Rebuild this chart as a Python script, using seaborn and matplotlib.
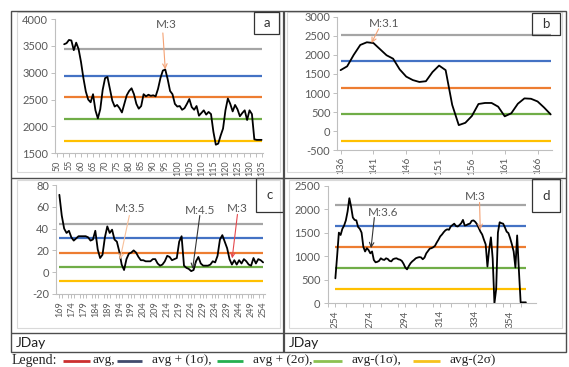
import numpy as np
import pandas as pd
import matplotlib
matplotlib.use("Agg")
import matplotlib.pyplot as plt
from matplotlib.lines import Line2D
from matplotlib.patches import Rectangle
from matplotlib.ticker import MultipleLocator
import seaborn as sns

# ---------------- data ----------------
# daily series (first Julian day + one value per day)
a_start = 53
a_vals = [3530,
          3550, 3610, 3600, 3420, 3560, 3440, 3200, 2900, 2650, 2500,
          2450, 2600, 2300, 2150, 2320, 2680, 2900, 2920, 2700, 2480,
          2370, 2400, 2340, 2260, 2420, 2580, 2660, 2710, 2600, 2420,
          2330, 2380, 2600, 2560, 2590, 2570, 2580, 2560, 2700, 2900,
          3040, 3060, 2880, 2660, 2600, 2420, 2370, 2380, 2310, 2340,
          2420, 2510, 2360, 2310, 2380, 2200, 2250, 2300, 2220, 2270,
          2230, 1900, 1660, 1680, 1830, 1960, 2300, 2520, 2420, 2280,
          2400, 2320, 2190, 2250, 2300, 2120, 2300, 2230, 1760, 1750,
          1750, 1750]

b_start = 136
b_vals = [1600, 1700, 2000, 2260, 2330, 2310, 2150, 1990, 1900, 1620,
          1430, 1340, 1290, 1310, 1550, 1720, 1600, 690, 160, 220,
          400, 713, 740, 740, 643, 390, 470, 720, 860, 850,
          780, 620, 440]

c_start = 169
c_vals = [71, 52, 40, 36, 38, 32, 29, 31, 33, 33,
          33, 33, 32, 29, 30, 38, 21, 13, 16, 32,
          42, 36, 39, 30, 28, 19, 7, 2, 12, 17,
          18, 20, 18, 14, 11, 11, 10, 10, 10, 12,
          12, 8, 6, 7, 10, 15, 14, 11, 12, 13,
          28, 33, 6, 4, 3, 1, 2, 10, 14, 8,
          6, 6, 6, 7, 10, 9, 15, 30, 34, 28,
          22, 12, 7, 11, 7, 11, 8, 12, 10, 7,
          6, 13, 8, 12, 11, 9]

d_start = 254
d_vals = [530, 1000, 1500, 1450, 1580, 1650, 1760, 1950, 2230, 2050,
          1820, 1770, 1760, 1620, 1580, 1500, 1200, 1100, 1170, 1130,
          1060, 1100, 920, 870, 880, 900, 955, 930, 920, 955,
          940, 900, 890, 935, 950, 955, 935, 925, 900, 840,
          760, 720, 790, 850, 890, 920, 955, 970, 980, 975,
          935, 970, 1060, 1110, 1160, 1170, 1190, 1220, 1290, 1350,
          1420, 1460, 1510, 1550, 1570, 1560, 1630, 1660, 1690, 1640,
          1630, 1660, 1700, 1770, 1650, 1660, 1680, 1690, 1750, 1760,
          1730, 1680, 1600, 1520, 1460, 1350, 1250, 780, 1150, 1400,
          950, 0, 300, 1500, 1720, 1700, 1690, 1610, 1520, 1490,
          1380, 1250, 1100, 760, 1440, 700, 20, 20, 20, 20]

# reference levels: avg+2s, avg+1s, avg, avg-1s, avg-2s
a_stats = [3440, 2940, 2540, 2130, 1730]
b_stats = [2530, 1835, 1140, 445, -250]
c_stats = [44, 31, 17.5, 4.5, -8.5]
d_stats = [2090, 1640, 1190, 740, 300]

# marker labels: (text, text x, text y, tail x, tail y, tip x, tip y, colour)
a_notes = [("M:3", 95.5, 3900, 94.0, 3740, 95.0, 3060, "#f4a274")]
b_notes = [("M:3.1", 142.6, 2810, 141.8, 2680, 140.7, 2310, "#f4a274")]
c_notes = [("M:3.5", 198.5, 58.6, 198.2, 52.0, 194.3, 11.8, "#f8c09a"),
           ("M:4.5", 227.6, 57.0, 227.6, 52.0, 224.6, 3.0, "#333333"),
           ("M:3", 243.2, 58.6, 243.3, 53.0, 241.1, 12.7, "#e5484d")]
d_notes = [("M:3.6", 281.6, 1934, 276.3, 1820, 274.4, 1170, "#333333"),
           ("M:3", 334.0, 2266, 336.5, 2140, 336.9, 1560, "#f4a274")]

legend_labels = ["avg,", "avg + (1\u03c3),", "avg + (2\u03c3),", "avg-(1\u03c3),", "avg-(2\u03c3)"]
legend_colors = ["#cc2f2f", "#414b6d", "#25b050", "#8cc152", "#f6c21d"]

# ---------------- style ----------------
sns.set_theme(style="white")
plt.rcParams["font.family"] = ["Lato", "DejaVu Sans"]
plt.rcParams["axes.unicode_minus"] = False

level_colors = ["#a5a5a5", "#4472c4", "#ed7d31", "#70ad47", "#ffc000"]
AX_GREY = "#bfbfbf"
TXT_GREY = "#595959"
YTICK_FS = 8
NOTE_FS = 8.5

W, H = 569, 367
fig = plt.figure(figsize=(W / 100, H / 100), dpi=100)
fig.patch.set_facecolor("white")


def fx(px):
    return px / W


def fy(py):
    return 1 - py / H


def px_axes(left, top, right, bottom):
    return fig.add_axes([fx(left), fy(bottom), (right - left) / W, (bottom - top) / H])


def fig_line(x0, y0, x1, y1, color="#5a5a5a", lw=1.0):
    fig.add_artist(Line2D([fx(x0), fx(x1)], [fy(y0), fy(y1)],
                          transform=fig.transFigure, color=color, lw=lw,
                          solid_capstyle="butt"))


def fig_rect(x0, y0, x1, y1, color, lw):
    fig.add_artist(Rectangle((fx(x0), fy(y1)), fx(x1) - fx(x0), fy(y0) - fy(y1),
                             transform=fig.transFigure, fill=False,
                             edgecolor=color, lw=lw))


# faint chart-area frames
fig_rect(17, 12, 280, 172, "#d9d9d9", 0.8)
fig_rect(287, 12, 562, 172, "#d9d9d9", 0.8)
fig_rect(17, 180, 280, 328, "#d9d9d9", 0.8)
fig_rect(289, 180, 562, 328, "#d9d9d9", 0.8)

# table grid
fig_rect(11, 11, 566, 352, "#4d4d4d", 1.0)
fig_line(11, 178, 566, 178, "#4d4d4d", 1.0)
fig_line(11, 333, 566, 333, "#4d4d4d", 1.0)
fig_line(283.5, 11, 283.5, 352, "#4d4d4d", 1.6)


def draw_panel(ax, start, vals, stats, notes, xlim, ylim, ystep, xmajor, xminor, xfs):
    days = np.arange(start, start + len(vals))
    df = pd.DataFrame({"day": days, "value": vals})
    for lvl, col in zip(stats, level_colors):
        ax.hlines(lvl, days[0], days[-1], color=col, lw=1.6, zorder=1)
    sns.lineplot(data=df, x="day", y="value", ax=ax, color="black", lw=1.3,
                 zorder=3, estimator=None)
    ax.set_xlim(*xlim)
    ax.set_ylim(*ylim)
    ax.set_yticks(np.arange(ylim[0], ylim[1] + ystep / 2, ystep))
    ax.set_xticks(xmajor)
    ax.set_xticklabels([str(v) for v in xmajor], rotation=90)
    if xminor:
        ax.xaxis.set_minor_locator(MultipleLocator(xminor))
    ax.set_xlabel("")
    ax.set_ylabel("")
    for s in ("top", "right"):
        ax.spines[s].set_visible(False)
    for s in ("left", "bottom"):
        ax.spines[s].set_color(AX_GREY)
        ax.spines[s].set_linewidth(0.8)
    ax.tick_params(axis="both", which="both", length=3, width=0.7, color=AX_GREY,
                   labelcolor=TXT_GREY, pad=2, bottom=True, left=True)
    ax.tick_params(axis="y", labelsize=YTICK_FS)
    ax.tick_params(axis="x", labelsize=xfs)
    ax.tick_params(axis="y", which="minor", left=False)
    ax.set_facecolor("none")
    for text, tx, ty, sx, sy, hx, hy, col in notes:
        ax.text(tx, ty, text, ha="center", va="center", fontsize=NOTE_FS,
                color=TXT_GREY, zorder=5)
        ax.annotate("", xy=(hx, hy), xytext=(sx, sy),
                    arrowprops=dict(arrowstyle="->", color=col, lw=0.8,
                                    shrinkA=0, shrinkB=0, mutation_scale=8),
                    zorder=5)


ax_a = px_axes(55, 19, 263, 153.3)
draw_panel(ax_a, a_start, a_vals, a_stats, a_notes, (49.2, 135.6), (1500, 4000), 500,
           list(range(50, 136, 5)), 2.5, 6.5)

ax_b = px_axes(337.3, 16.7, 552, 150.3)
draw_panel(ax_b, b_start, b_vals, b_stats, b_notes, (135.5, 168.2), (-500, 3000), 500,
           list(range(136, 167, 5)), None, 7.2)

ax_c = px_axes(56, 185, 265, 294)
draw_panel(ax_c, c_start, c_vals, c_stats, c_notes, (167.6, 254.8), (-20, 80), 20,
           list(range(169, 255, 5)), 2.5, 6.5)

ax_d = px_axes(327.5, 185.5, 535.5, 303.3)
draw_panel(ax_d, d_start, d_vals, d_stats, d_notes, (249.5, 368.5), (0, 2500), 500,
           list(range(254, 355, 20)), 10, 7.2)

# panel letters in small boxes
for letter, (x0, y0, x1, y1) in zip("abcd", [(254, 12, 279, 34), (532, 13, 560, 35),
                                            (256, 178, 283, 212), (532, 179, 560, 212)]):
    fig_rect(x0, y0, x1, y1, "#333333", 0.9)
    fig.text(fx((x0 + x1) / 2), fy((y0 + y1) / 2), letter, ha="center", va="center",
             fontsize=9.5, color="#333333")

# axis caption row
fig.text(fx(16), fy(343), "JDay", ha="left", va="center", fontsize=10, color="#222222")
fig.text(fx(289), fy(343), "JDay", ha="left", va="center", fontsize=10, color="#222222")

# legend row
serif = ["Liberation Serif", "DejaVu Serif"]
ly = 360.5
fig.text(fx(12), fy(ly), "Legend:", ha="left", va="center", fontsize=10,
         family=serif, color="#222222")
segments = [(63, 90, 93), (117, 142, 152), (217, 243, 253), (313, 342, 352), (413, 440, 450)]
for (x0, x1, tx), lab, col in zip(segments, legend_labels, legend_colors):
    fig_line(x0, ly, x1, ly, col, 2.0)
    fig.text(fx(tx), fy(ly), lab, ha="left", va="center", fontsize=9.5,
             family=serif, color="#222222")

fig.savefig("out.png", dpi=100, facecolor="white")
